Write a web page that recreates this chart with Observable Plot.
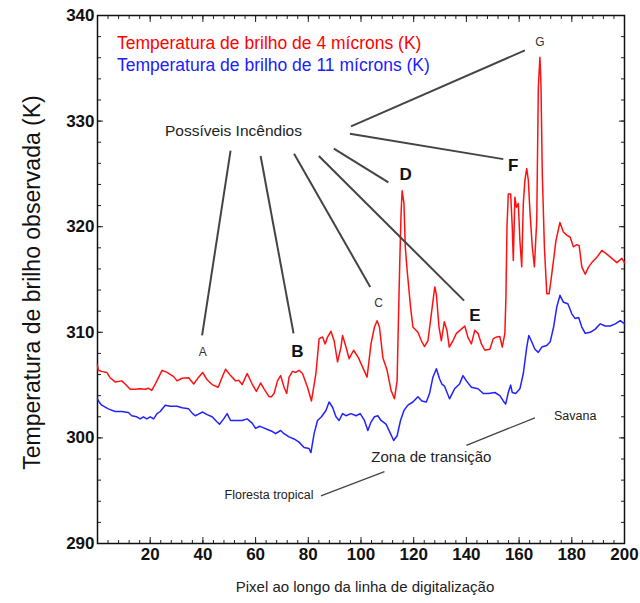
<!DOCTYPE html>
<html><head><meta charset="utf-8">
<script src="https://cdn.jsdelivr.net/npm/d3@7"></script>
<script src="https://cdn.jsdelivr.net/npm/@observablehq/plot@0.6"></script>
<style>
body{margin:0;background:#fff;}
#chart svg{font-family:"Liberation Sans",Arial,sans-serif;background:#fff;}
</style>
</head><body><div id="chart"></div>
<script>
// Red series: 4 µm brightness temperature (K)
const redX = [0,0.3,1.6,3.5,4.8,6.7,9.2,10.5,12.4,14.3,16.2,18.1,19.4,20.6,21.9,24.5,26.4,28.9,30.2,32.1,34.6,36.5,38.4,39.9,41.6,43.5,45.8,47.3,48.6,50.5,52.4,53.6,54.9,56.8,58.7,60.3,61.9,63.2,65.1,66.0,67.0,68.3,69.5,70.8,71.8,72.7,74.0,75.2,76.5,77.8,79.7,81.2,82.9,84.1,85.4,86.4,87.3,88.6,89.8,91.1,92.4,93.0,94.3,95.5,97.2,99.0,100.6,102.3,103.8,105.1,106.1,107.0,108.3,109.9,111.4,112.7,113.7,114.2,114.7,115.2,115.6,116.3,116.8,117.5,118.8,119.7,121.6,122.9,124.1,125.4,126.7,128.0,128.6,129.6,130.5,131.6,132.6,133.5,134.9,136.2,138.1,139.4,140.6,141.9,143.2,144.4,145.7,147.0,148.9,150.2,151.4,152.7,153.6,154.6,155.0,155.4,155.9,156.8,157.4,157.8,158.4,159.0,159.7,160.3,161.0,161.6,162.2,162.9,163.5,164.1,165.0,165.8,166.7,167.3,167.9,168.3,168.8,169.6,170.5,171.4,172.4,174.0,175.5,176.8,178.1,179.4,180.6,181.9,182.8,183.8,185.1,186.4,187.6,189.5,191.4,193.3,195.2,197.1,199.0,200.0];
const redY = [306.9,306.4,306.3,306.2,305.7,305.3,305.4,305.1,304.6,304.6,304.65,304.6,304.7,304.5,305.1,306.4,306.2,305.8,305.4,305.65,305.7,305.1,305.75,306.2,305.5,305.05,304.8,305.75,306.5,305.9,305.4,305.45,305.05,306.1,305.1,304.4,305.2,304.65,303.9,303.9,304.2,305.4,305.9,304.8,304.2,305.75,306.3,306.2,306.4,306.1,304.8,303.5,306.1,309.4,309.55,308.9,309.55,310.1,309.2,307.2,308.6,309.7,308.6,307.5,308.3,307.6,306.7,305.75,308.9,310.5,311.1,310.5,307.6,306.4,304.5,303.7,305.4,311.1,316.5,321.2,323.4,322.2,318.1,315.9,312.4,310.5,310.0,309.2,308.65,309.2,311.75,314.3,313.6,310.5,309.2,311.0,310.2,308.6,309.2,309.9,310.3,310.6,309.5,308.9,310.2,309.9,308.9,308.3,308.4,309.4,309.55,309.6,308.6,309.9,313.3,320.0,323.1,323.1,320.0,316.8,322.8,321.85,322.2,318.7,316.2,322.2,324.4,325.5,324.4,321.5,318.1,316.2,320.6,333.2,336.05,333.5,325.0,318.1,313.65,313.65,315.5,318.7,320.4,319.5,319.2,319.0,318.1,318.3,318.2,316.2,315.5,316.2,316.6,317.1,317.75,317.4,317.0,316.6,317.0,316.6];

// Blue series: 11 µm brightness temperature (K)
const blueX = [0,0.6,1.6,4.1,6.7,9.2,11.7,13.0,14.9,16.2,17.4,18.7,20.0,21.3,22.6,23.8,25.7,27.6,30.2,32.1,34.6,36.1,37.1,38.7,39.9,41.6,43.5,45.4,46.3,47.9,49.2,50.5,52.4,54.9,56.8,58.7,60.0,61.5,62.6,64.5,66.4,67.6,69.5,70.8,72.7,74.6,76.5,78.4,80.3,81.0,82.2,83.5,85.0,86.7,87.9,89.2,90.5,91.7,93.0,94.3,96.2,98.1,99.7,101.3,102.6,103.8,105.1,106.4,107.6,109.5,111.2,112.4,113.7,115.0,116.3,117.8,119.7,121.6,123.1,124.8,126.0,127.3,128.6,129.8,130.7,131.7,133.6,135.5,137.4,138.7,140.0,141.9,144.4,146.4,148.3,150.8,152.7,154.0,154.9,155.9,156.8,157.4,158.7,160.3,161.6,162.9,163.7,164.8,166.0,167.3,168.6,170.5,171.8,173.1,174.3,175.5,176.8,178.5,180.0,181.3,182.6,183.8,185.1,187.0,188.9,190.8,192.7,194.6,196.5,198.4,200.0];
const blueY = [303.7,303.4,303.1,302.75,302.5,302.5,302.4,302.1,302.0,301.8,302.0,301.8,302.0,301.8,302.3,302.5,303.1,303.0,303.0,302.85,302.75,302.3,302.1,302.3,302.45,302.2,302.0,301.5,301.3,301.8,302.3,301.65,301.65,301.65,301.8,301.4,300.9,301.1,301.0,300.8,300.6,300.4,300.7,300.4,300.1,299.9,299.6,299.1,299.0,298.6,300.4,301.65,302.0,302.6,303.4,302.9,302.0,301.65,302.3,302.1,302.3,302.1,302.3,301.65,300.7,301.5,302.0,302.1,301.65,301.3,300.4,299.75,300.2,301.65,302.6,303.1,303.4,303.9,303.5,303.4,304.2,305.75,306.55,305.6,305.1,304.9,303.7,304.65,305.1,305.9,305.4,304.8,304.65,304.2,304.2,304.3,304.0,303.5,303.2,304.3,305.0,304.3,304.2,304.65,306.1,308.6,309.7,309.1,308.4,308.1,308.6,308.75,309.1,310.5,312.4,313.5,312.85,312.7,311.75,311.3,311.4,310.5,309.9,310.0,310.3,310.8,310.6,310.6,310.8,311.1,310.8];

// Axis ticks
const xMajor = [20,40,60,80,100,120,140,160,180,200];
const xMinor = d3.range(0, 201, 4);
const yMajor = [290,300,310,320,330,340];
const yMinor = d3.range(290, 341, 2);

// Legend
const legendText = ["Temperatura de brilho de 4 mícrons (K)", "Temperatura de brilho de 11 mícrons (K)"];
const legendColor = ["#ff0000", "#2020ff"];
const legendX = [7.4, 7.4];
const legendY = [337.4, 335.3];

// Annotation labels (fire candidates)
const fireNames = ["A","B","C","D","E","F","G"];
const fireLabelX = [39.9, 75.9, 106.7, 116.9, 143.2, 157.8, 167.9];
const fireLabelY = [308.1, 308.2, 312.8, 324.9, 311.6, 325.8, 337.5];
const fireBold = [false, true, false, true, true, true, false];
// Leader lines from "Possíveis Incêndios"
const leadX1 = [50.5, 61.9, 74.6, 89.7, 84.0, 95.8, 96.2];
const leadY1 = [327.2, 326.7, 326.9, 327.4, 326.7, 328.8, 329.5];
const leadX2 = [39.7, 74.4, 103.5, 110.4, 139.1, 154.0, 162.2];
const leadY2 = [309.7, 309.9, 314.3, 324.2, 313.0, 326.4, 336.7];

// Land cover labels
const zoneNames = ["Savana", "Zona de transição", "Floresta tropical"];
const zoneX = [181.3, 126.7, 65.1];
const zoneY = [302.1, 298.2, 294.6];
const zoneSize = [12.5, 15, 12.5];
const zoneLineX1 = [166.0, 108.9];
const zoneLineY1 = [301.9, 296.8];
const zoneLineX2 = [140.0, 84.8];
const zoneLineY2 = [299.3, 294.5];

const red = redX.map((x, i) => ({x, y: redY[i]}));
const blue = blueX.map((x, i) => ({x, y: blueY[i]}));
const legend = legendText.map((t, i) => ({t, c: legendColor[i], x: legendX[i], y: legendY[i]}));
const fires = fireNames.map((t, i) => ({t, x: fireLabelX[i], y: fireLabelY[i], b: fireBold[i]}));
const leads = leadX1.map((x1, i) => ({x1, y1: leadY1[i], x2: leadX2[i], y2: leadY2[i]}));
const zones = zoneNames.map((t, i) => ({t, x: zoneX[i], y: zoneY[i], s: zoneSize[i]}));
const zoneLines = zoneLineX1.map((x1, i) => ({x1, y1: zoneLineY1[i], x2: zoneLineX2[i], y2: zoneLineY2[i]}));

const blank = () => "";

const chart = Plot.plot({
  width: 640,
  height: 603,
  marginLeft: 97,
  marginRight: 16,
  marginTop: 15,
  marginBottom: 60,
  x: {domain: [0, 200]},
  y: {domain: [290, 340]},
  marks: [
    // axes (inward ticks)
    Plot.axisX(xMinor, {anchor: "bottom", tickSize: -3, tickFormat: blank, label: null, stroke: "#222"}),
    Plot.axisX(xMajor, {anchor: "bottom", tickSize: -6, tickPadding: 10, label: null, fontSize: 17, fontWeight: "bold", fill: "#111", stroke: "#222"}),
    Plot.axisX(xMinor, {anchor: "top", tickSize: -3, tickFormat: blank, label: null, stroke: "#222"}),
    Plot.axisX(xMajor, {anchor: "top", tickSize: -6, tickFormat: blank, label: null, stroke: "#222"}),
    Plot.axisY(yMinor, {anchor: "left", tickSize: -4, tickFormat: blank, label: null, stroke: "#222"}),
    Plot.axisY(yMajor, {anchor: "left", tickSize: -6, tickPadding: 9, label: null, fontSize: 17, fontWeight: "bold", fill: "#111", stroke: "#222"}),
    Plot.axisY(yMinor, {anchor: "right", tickSize: -4, tickFormat: blank, label: null, stroke: "#222"}),
    Plot.axisY(yMajor, {anchor: "right", tickSize: -6, tickFormat: blank, label: null, stroke: "#222"}),
    Plot.frame({stroke: "#111", strokeWidth: 1.5}),
    // axis titles
    Plot.text(["Temperatura de brilho observada (K)"], {frameAnchor: "left", textAnchor: "middle", dx: -65, dy: 3, rotate: -90, fontSize: 23, fill: "#111"}),
    Plot.text(["Pixel ao longo da linha de digitalização"], {frameAnchor: "bottom", dy: 48, dx: 4, fontSize: 15, fill: "#222"}),
    // series
    Plot.line(red, {x: "x", y: "y", stroke: "#ff1111", strokeWidth: 1.5}),
    Plot.line(blue, {x: "x", y: "y", stroke: "#2222ff", strokeWidth: 1.5}),
    // legend
    Plot.text(legend, {x: "x", y: "y", text: "t", fill: "c", textAnchor: "start", fontSize: 17.5}),
    // annotations
    Plot.link(leads, {x1: "x1", y1: "y1", x2: "x2", y2: "y2", stroke: "#444", strokeWidth: 2}),
    Plot.text(["Possíveis Incêndios"], {x: [51.6], y: [329.1], fontSize: 15.5, fill: "#222"}),
    Plot.text(fires.filter(d => !d.b), {x: "x", y: "y", text: "t", fontSize: 12, fill: "#333"}),
    Plot.text(fires.filter(d => d.b), {x: "x", y: "y", text: "t", fontSize: 17, fontWeight: "bold", fill: "#111"}),
    Plot.link(zoneLines, {x1: "x1", y1: "y1", x2: "x2", y2: "y2", stroke: "#444", strokeWidth: 1.3}),
    Plot.text(zones, {x: "x", y: "y", text: "t", fontSize: "s", fill: "#222"})
  ]
});
document.getElementById("chart").appendChild(chart);
</script>
</body></html>
